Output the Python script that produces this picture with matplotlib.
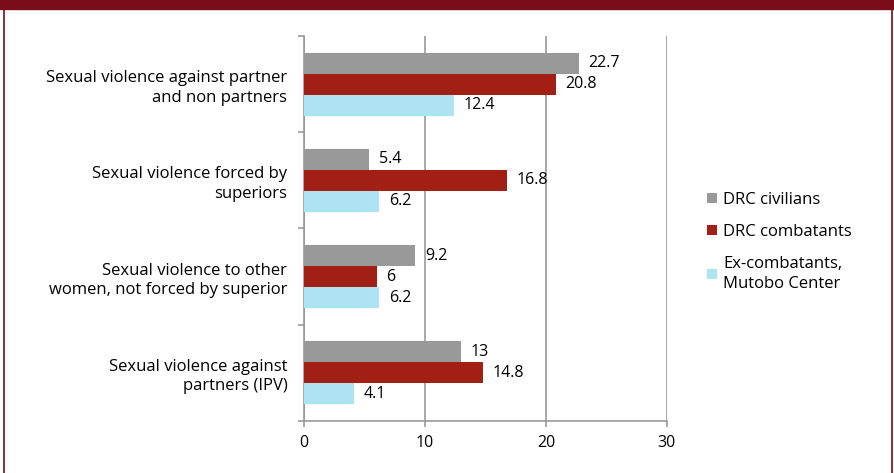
import numpy as np
import matplotlib.pyplot as plt
from matplotlib.patches import Rectangle

plt.rcParams['font.family'] = ['Open Sans', 'DejaVu Sans']

categories = [
    "Sexual violence against partner\nand non partners",
    "Sexual violence forced by\nsuperiors",
    "Sexual violence to other\nwomen, not forced by superior",
    "Sexual violence against\npartners (IPV)",
]
series_names = ["DRC civilians", "DRC combatants", "Ex-combatants,\nMutobo Center"]
civilians = [22.7, 5.4, 9.2, 13]
combatants = [20.8, 16.8, 6, 14.8]
ex_combatants = [12.4, 6.2, 6.2, 4.1]
x_ticks = [0, 10, 20, 30]

colors = ["#999999", "#a21f16", "#ade3f3"]
series = [civilians, combatants, ex_combatants]

fig = plt.figure(figsize=(8.94, 4.73), dpi=100)
# dark red header band and side borders
fig.patches.append(Rectangle((0, 0.981), 1, 0.019, transform=fig.transFigure,
                             color="#7a0d18", zorder=0))
fig.add_artist(plt.Line2D([0.005, 0.005], [0, 0.981], transform=fig.transFigure,
                          color="#7a0d18", lw=1.2))
fig.add_artist(plt.Line2D([0.998, 0.998], [0, 0.981], transform=fig.transFigure,
                          color="#7a0d18", lw=1.2))

ax = fig.add_axes([0.340, 0.110, 0.406, 0.814])

y = np.arange(len(categories))
h = 0.218
for i, (vals, c, name) in enumerate(zip(series, colors, series_names)):
    pos = y + (i - 1) * h
    ax.barh(pos, vals, height=h, color=c, label=name, zorder=3)
    for p, v in zip(pos, vals):
        ax.text(v + 0.8, p, f"{v:g}", va="center", ha="left", fontsize=11.5, zorder=4)

ax.set_ylim(3.5, -0.5)
ax.set_xlim(0, 30)
ax.set_xticks(x_ticks)
ax.set_yticks(y)
ax.set_yticklabels(categories, fontsize=12, linespacing=1.3)
ax.set_yticks(np.arange(-0.5, 4, 1), minor=True)
ax.tick_params(axis="y", which="major", length=0, pad=12)
ax.tick_params(axis="y", which="minor", length=4, color="#999999", width=1.2)
ax.tick_params(axis="x", length=4, color="#999999", width=1.2, labelsize=11.5, pad=6)
ax.grid(axis="x", color="#999999", lw=1.2, zorder=0)
for s in ["top", "right"]:
    ax.spines[s].set_visible(False)
for s in ["left", "bottom"]:
    ax.spines[s].set_color("#999999")
    ax.spines[s].set_linewidth(1.2)

leg = ax.legend(loc="center left", bbox_to_anchor=(1.07, 0.465), frameon=False,
                fontsize=12, handlelength=0.6, handleheight=0.6, handletextpad=0.35,
                labelspacing=0.95)
for t in leg.get_texts():
    t.set_linespacing(1.35)

fig.savefig("out.png", dpi=100)
